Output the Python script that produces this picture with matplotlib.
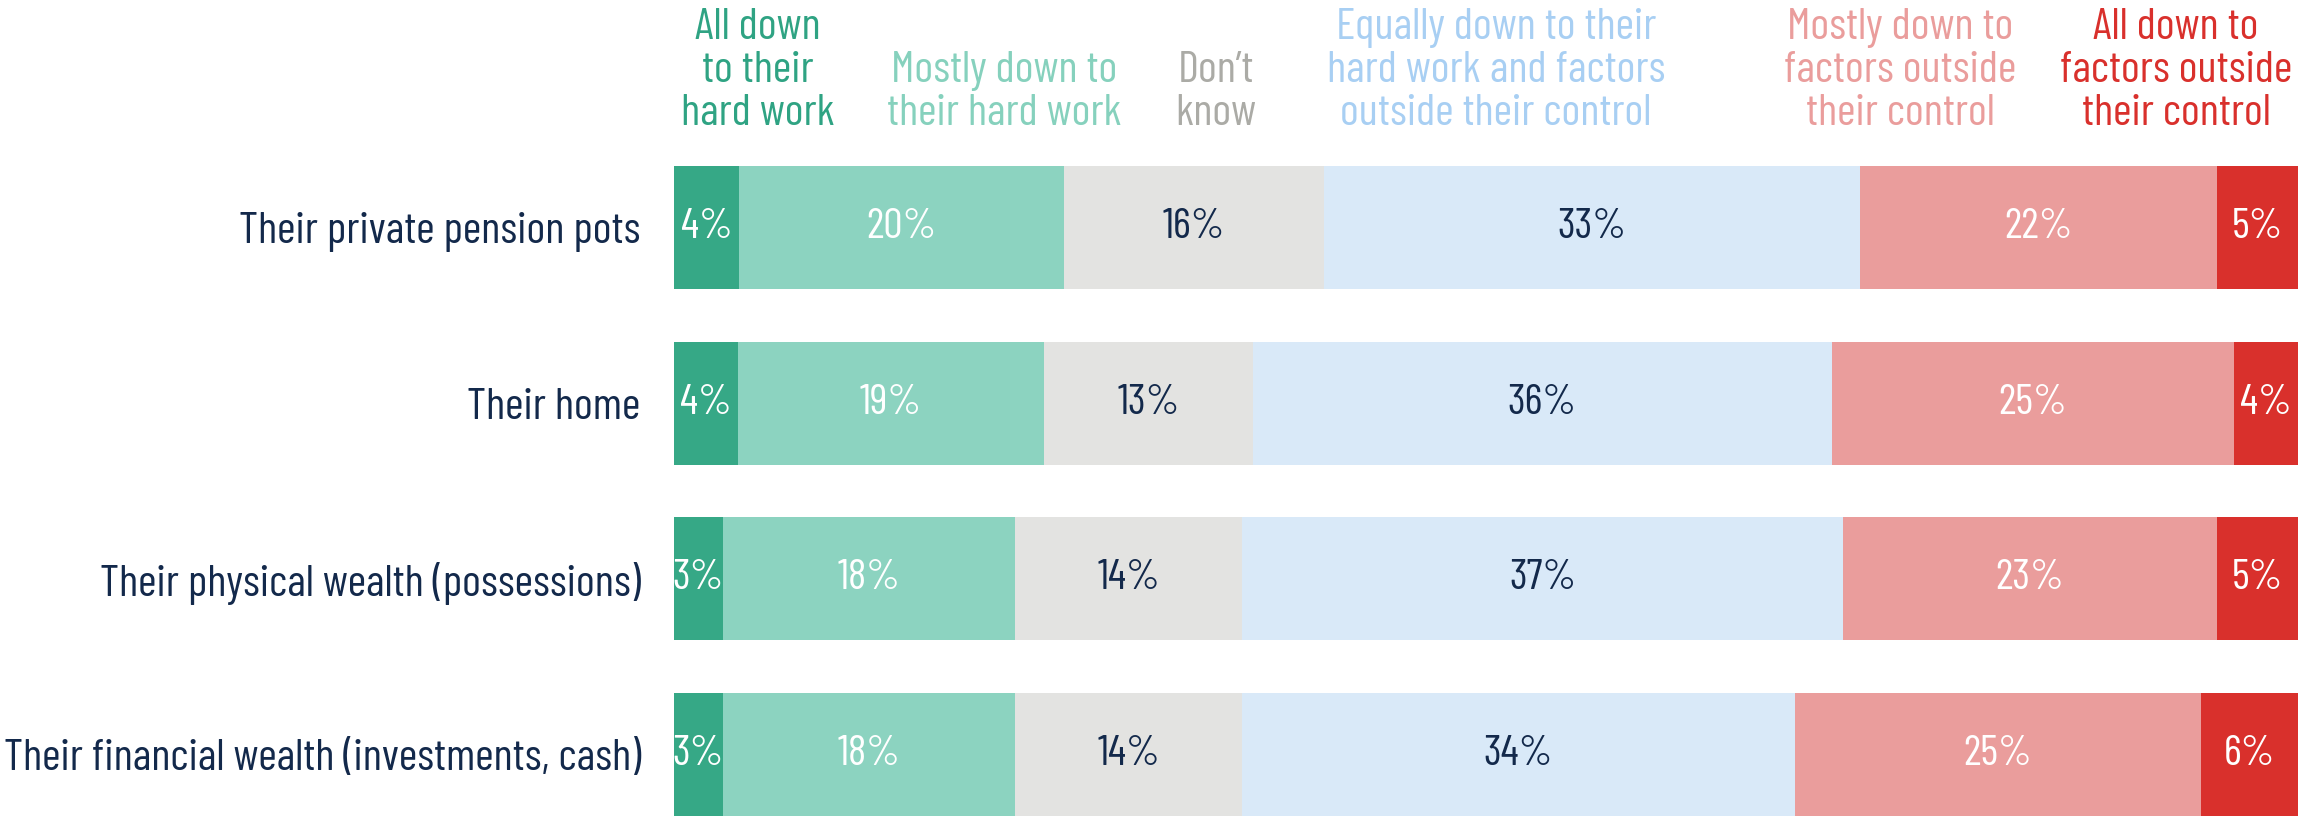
import matplotlib
matplotlib.use("Agg")
import matplotlib.pyplot as plt
import numpy as np

W, H, DPI = 2298, 816, 100

categories = [
    "Their private pension pots",
    "Their home",
    "Their physical wealth (possessions)",
    "Their financial wealth (investments, cash)",
]
series_names = [
    "All down\nto their\nhard work",
    "Mostly down to\ntheir hard work",
    "Don\u2019t\nknow",
    "Equally down to their\nhard work and factors\noutside their control",
    "Mostly down to\nfactors outside\ntheir control",
    "All down to\nfactors outside\ntheir control",
]
values = [
    [4, 4, 3, 3],
    [20, 19, 18, 18],
    [16, 13, 14, 14],
    [33, 36, 37, 34],
    [22, 25, 23, 25],
    [5, 4, 5, 6],
]
bar_colors = ["#36A886", "#8CD3C0", "#E3E3E1", "#D9E9F8", "#EA9D9C", "#D9302C"]
header_colors = ["#2FA383", "#86D1BD", "#ABABA6", "#A8CFF3", "#EA9D9C", "#D9302C"]
value_colors = ["white", "white", "#13294B", "#13294B", "white", "white"]
# header centres in pixels (x) -- layout only
header_x = [758, 1004, 1216, 1496, 1900, 2176]

NAVY = "#13294B"
plt.rcParams["font.family"] = ["Barlow Condensed", "Roboto Condensed",
                               "Archivo Narrow", "DejaVu Sans"]
FS = 32.4

fig = plt.figure(figsize=(W / DPI, H / DPI), dpi=DPI)
left = 674 / W
top_px = 166
ax = fig.add_axes([left, 0, 1 - left, (H - top_px) / H])

# rows don't all sum to exactly 100 (rounding), so scale each row to fill
vals = np.array(values, dtype=float)
totals = vals.sum(axis=0)
y = np.arange(len(categories))
starts = np.zeros(len(categories))
for i, name in enumerate(series_names):
    w = vals[i] / totals * 100
    ax.barh(y, w, left=starts, height=0.7, color=bar_colors[i], edgecolor="none")
    for j in range(len(categories)):
        ax.text(starts[j] + w[j] / 2, y[j], f"{int(values[i][j])}%",
                ha="center", va="center", fontsize=31, color=value_colors[i])
    starts += w

ax.set_xlim(0, 100)
ax.set_ylim(len(categories) - 1 + 0.35, -0.35)
ax.set_yticks(y)
ax.set_yticklabels(categories, fontsize=FS, color=NAVY)
ax.tick_params(axis="y", length=0, pad=24)
ax.tick_params(axis="x", bottom=False, labelbottom=False)
for s in ax.spines.values():
    s.set_visible(False)

for i, name in enumerate(series_names):
    fig.text(header_x[i] / W, 1 - 134 / H, name, ha="center", va="bottom",
             fontsize=FS, color=header_colors[i], linespacing=1.1)

fig.savefig("out.png", dpi=DPI)
